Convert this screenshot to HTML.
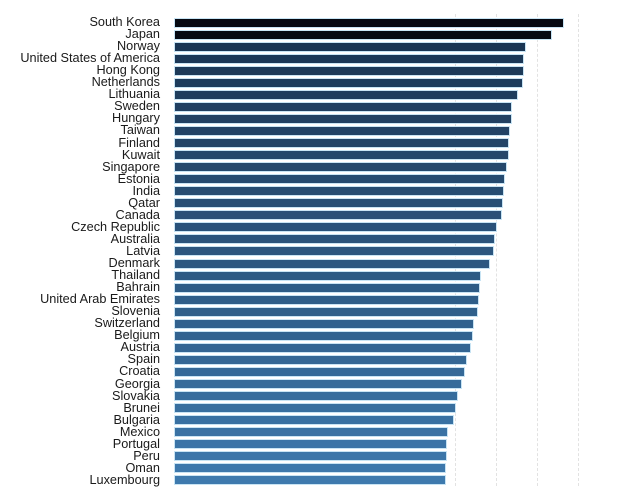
<!DOCTYPE html>
<html><head><style>
body{margin:0;background:#fff;width:640px;height:486px;overflow:hidden;position:relative;font-family:"Liberation Sans",Arial,sans-serif}
.g{position:absolute;top:14px;height:472px;width:0;border-left:1px dashed #e2e2e2}
.l{position:absolute;right:480px;font-size:12.7px;color:#1a1a1a;line-height:12px;white-space:nowrap}
.b{position:absolute;left:175px;height:8px;box-shadow:0 0 0 1px #c8e4f4}
</style></head><body>
<div class="g" style="left:455px"></div><div class="g" style="left:496px"></div><div class="g" style="left:537px"></div><div class="g" style="left:578px"></div>
<div id="c"></div>
<script>
var d=[["South Korea",563],["Japan",551],["Norway",525],["United States of America",523],["Hong Kong",522.5],["Netherlands",521.5],["Lithuania",517],["Sweden",511],["Hungary",511],["Taiwan",509],["Finland",508],["Kuwait",508],["Singapore",506],["Estonia",504],["India",503],["Qatar",502],["Canada",501],["Czech Republic",496],["Australia",493.5],["Latvia",493],["Denmark",489],["Thailand",480],["Bahrain",479],["United Arab Emirates",478],["Slovenia",477],["Switzerland",473],["Belgium",472],["Austria",470],["Spain",466],["Croatia",464],["Georgia",461],["Slovakia",457],["Brunei",455],["Bulgaria",453],["Mexico",447],["Portugal",446],["Peru",445.5],["Oman",445],["Luxembourg",445]];
var h="";
d.forEach(function(r,i){
var y=18.5+12.05*i;
var c;
if(i<2)c="rgb(6,9,18)";else{var t=(i-2)/36;c="rgb("+Math.round(27+t*35)+","+Math.round(54+t*68)+","+Math.round(84+t*90)+")";}
h+='<div class="l" style="top:'+(y-2.5)+'px">'+r[0]+'</div><div class="b" style="top:'+y+'px;width:'+(r[1]-175)+'px;background:'+c+'"></div>';
});
document.getElementById("c").innerHTML=h;
</script>
</body></html>
